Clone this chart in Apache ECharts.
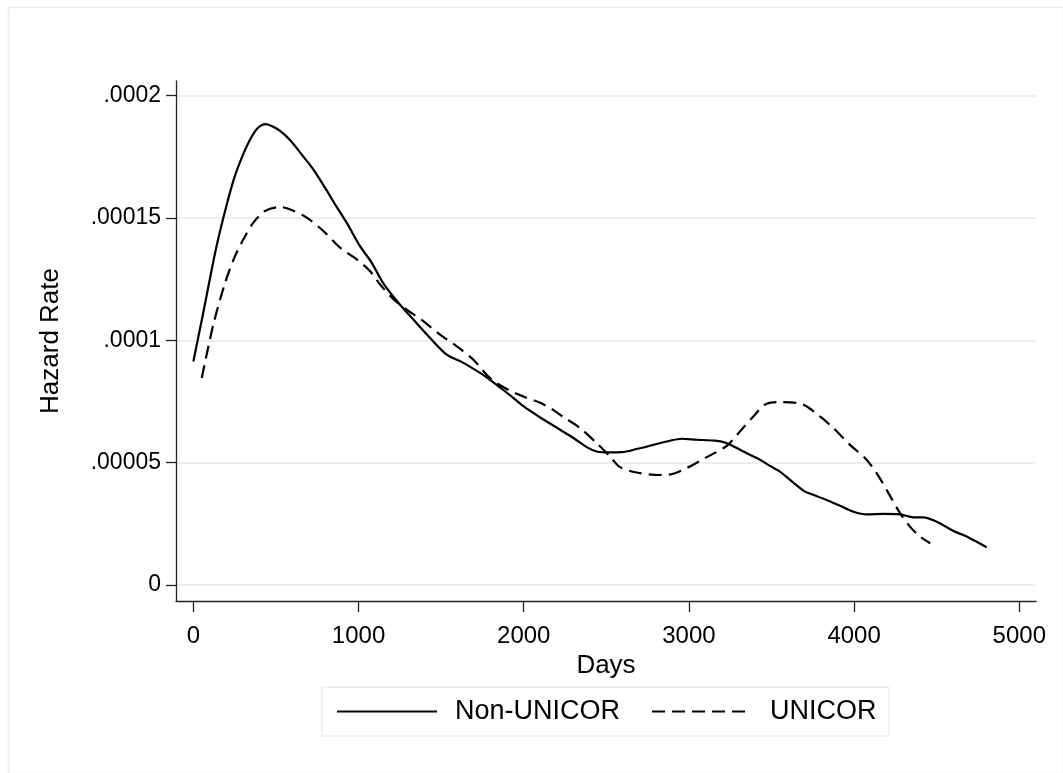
<!DOCTYPE html>
<html>
<head>
<meta charset="utf-8">
<script src="https://cdn.jsdelivr.net/npm/echarts@6/dist/echarts.min.js"></script>
<style>
  html, body { margin: 0; padding: 0; background: #ffffff; }
  #chart { width: 1063px; height: 773px; }
</style>
</head>
<body>
<div id="chart"></div>
<script>
// Smoothed hazard estimates by days since release
const nonUnicorDays = [0, 60, 132, 182, 242, 289, 339, 387, 438, 484, 525, 585, 666, 726, 797, 858, 928, 1009, 1080, 1150, 1241, 1332, 1433, 1534, 1635, 1735, 1796, 1900, 2000, 2100, 2220, 2301, 2381, 2442, 2523, 2593, 2684, 2785, 2886, 2956, 3047, 3158, 3229, 3329, 3420, 3491, 3551, 3632, 3703, 3753, 3834, 3915, 3996, 4076, 4177, 4278, 4358, 4419, 4500, 4611, 4671, 4742, 4803];
const nonUnicorHazard = [9.14e-5, 11.13e-5, 13.58e-5, 15.02e-5, 16.52e-5, 17.40e-5, 18.15e-5, 18.66e-5, 18.84e-5, 18.73e-5, 18.56e-5, 18.19e-5, 17.51e-5, 16.99e-5, 16.24e-5, 15.56e-5, 14.81e-5, 13.85e-5, 13.17e-5, 12.33e-5, 11.54e-5, 10.85e-5, 10.10e-5, 9.42e-5, 9.08e-5, 8.67e-5, 8.39e-5, 7.85e-5, 7.30e-5, 6.85e-5, 6.35e-5, 6.01e-5, 5.64e-5, 5.46e-5, 5.42e-5, 5.43e-5, 5.56e-5, 5.73e-5, 5.90e-5, 5.98e-5, 5.94e-5, 5.90e-5, 5.80e-5, 5.46e-5, 5.16e-5, 4.87e-5, 4.64e-5, 4.19e-5, 3.82e-5, 3.69e-5, 3.48e-5, 3.24e-5, 3.00e-5, 2.89e-5, 2.91e-5, 2.89e-5, 2.77e-5, 2.77e-5, 2.59e-5, 2.18e-5, 2.02e-5, 1.77e-5, 1.54e-5];

const unicorDays = [51, 121, 192, 252, 303, 363, 434, 525, 595, 686, 787, 888, 989, 1070, 1130, 1213, 1292, 1393, 1493, 1594, 1695, 1796, 1900, 2000, 2100, 2180, 2240, 2341, 2442, 2523, 2583, 2684, 2825, 2906, 2987, 3108, 3229, 3309, 3390, 3471, 3572, 3693, 3793, 3874, 3975, 4066, 4137, 4208, 4278, 4338, 4399, 4460];
const unicorHazard = [8.46e-5, 10.65e-5, 12.35e-5, 13.44e-5, 14.13e-5, 14.81e-5, 15.29e-5, 15.45e-5, 15.33e-5, 15.02e-5, 14.47e-5, 13.79e-5, 13.31e-5, 12.83e-5, 12.29e-5, 11.67e-5, 11.26e-5, 10.78e-5, 10.24e-5, 9.76e-5, 9.21e-5, 8.46e-5, 8.00e-5, 7.70e-5, 7.45e-5, 7.15e-5, 6.87e-5, 6.42e-5, 5.80e-5, 5.25e-5, 4.82e-5, 4.60e-5, 4.50e-5, 4.55e-5, 4.78e-5, 5.23e-5, 5.69e-5, 6.28e-5, 6.89e-5, 7.41e-5, 7.48e-5, 7.37e-5, 6.89e-5, 6.42e-5, 5.73e-5, 5.19e-5, 4.57e-5, 3.76e-5, 2.94e-5, 2.39e-5, 1.98e-5, 1.71e-5];

const xTicks = [0, 1000, 2000, 3000, 4000, 5000];
const xTickLabels = ['0', '1000', '2000', '3000', '4000', '5000'];
const yTicks = [0, 0.00005, 0.0001, 0.00015, 0.0002];
const yTickLabels = ['0', '.00005', '.0001', '.00015', '.0002'];

const seriesNames = ['Non-UNICOR', 'UNICOR'];

const FONT = '"Liberation Sans", Arial, sans-serif';
const GRID_COLOR = '#e9f0f2';
const AXIS_COLOR = '#222222';

function pairs(xs, ys) { return xs.map((x, i) => [x, ys[i]]); }

function nearestLabel(ticks, labels) {
  return function (v) {
    let best = 0;
    ticks.forEach((t, i) => { if (Math.abs(t - v) < Math.abs(ticks[best] - v)) best = i; });
    return labels[best];
  };
}

const chart = echarts.init(document.getElementById('chart'), null, { renderer: 'canvas' });

chart.setOption({
  backgroundColor: '#ffffff',
  animation: false,
  textStyle: { fontFamily: FONT },
  graphic: [{
    type: 'rect',
    left: 6, top: 5,
    shape: { width: 1055, height: 766 },
    style: { fill: 'none', stroke: '#e6eef0', lineWidth: 1.5 },
    silent: true
  }],
  grid: { left: 176, right: 27, top: 81, bottom: 172, containLabel: false },
  xAxis: {
    type: 'value',
    min: -105, max: 5101,
    name: 'Days',
    nameLocation: 'middle',
    nameGap: 40,
    nameTextStyle: { color: '#000', fontSize: 26, fontFamily: FONT },
    axisLine: { show: true, onZero: false, lineStyle: { color: AXIS_COLOR, width: 1.3 } },
    axisTick: { show: true, length: 11, customValues: xTicks, lineStyle: { color: AXIS_COLOR, width: 1.3 } },
    axisLabel: { customValues: xTicks, margin: 23, color: '#000', fontSize: 24, fontFamily: FONT,
                 formatter: nearestLabel(xTicks, xTickLabels) },
    splitLine: { show: false }
  },
  yAxis: {
    type: 'value',
    min: -0.0000065, max: 0.000206,
    name: 'Hazard Rate',
    nameLocation: 'middle',
    nameGap: 112,
    nameRotate: 90,
    nameTextStyle: { color: '#000', fontSize: 26, fontFamily: FONT },
    axisLine: { show: true, onZero: false, lineStyle: { color: AXIS_COLOR, width: 1.3 } },
    axisTick: { show: true, length: 10, customValues: yTicks, lineStyle: { color: AXIS_COLOR, width: 1.3 } },
    axisLabel: { customValues: yTicks, margin: 15, color: '#000', fontSize: 23, fontFamily: FONT,
                 formatter: nearestLabel(yTicks, yTickLabels) },
    splitLine: { show: true, lineStyle: { color: GRID_COLOR, width: 2 } }
  },
  legend: {
    data: seriesNames,
    left: 322, top: 687,
    orient: 'horizontal',
    itemWidth: 100, itemHeight: 14,
    itemGap: 31,
    padding: [11, 12, 11, 14],
    borderColor: '#e6eef0', borderWidth: 1.5,
    itemStyle: { opacity: 0 },
    textStyle: { color: '#000', fontSize: 27, fontFamily: FONT, padding: [0, 0, 0, 13] }
  },
  series: [
    {
      name: seriesNames[0],
      type: 'line',
      data: pairs(nonUnicorDays, nonUnicorHazard),
      showSymbol: false, symbol: 'none',
      smooth: 0.3,
      lineStyle: { color: '#000', width: 2.2, type: 'solid' },
      itemStyle: { color: '#000' }
    },
    {
      name: seriesNames[1],
      type: 'line',
      data: pairs(unicorDays, unicorHazard),
      showSymbol: false, symbol: 'none',
      smooth: 0.3,
      lineStyle: { color: '#000', width: 2.2, type: [13, 7] },
      itemStyle: { color: '#000' }
    }
  ]
});
</script>
</body>
</html>
